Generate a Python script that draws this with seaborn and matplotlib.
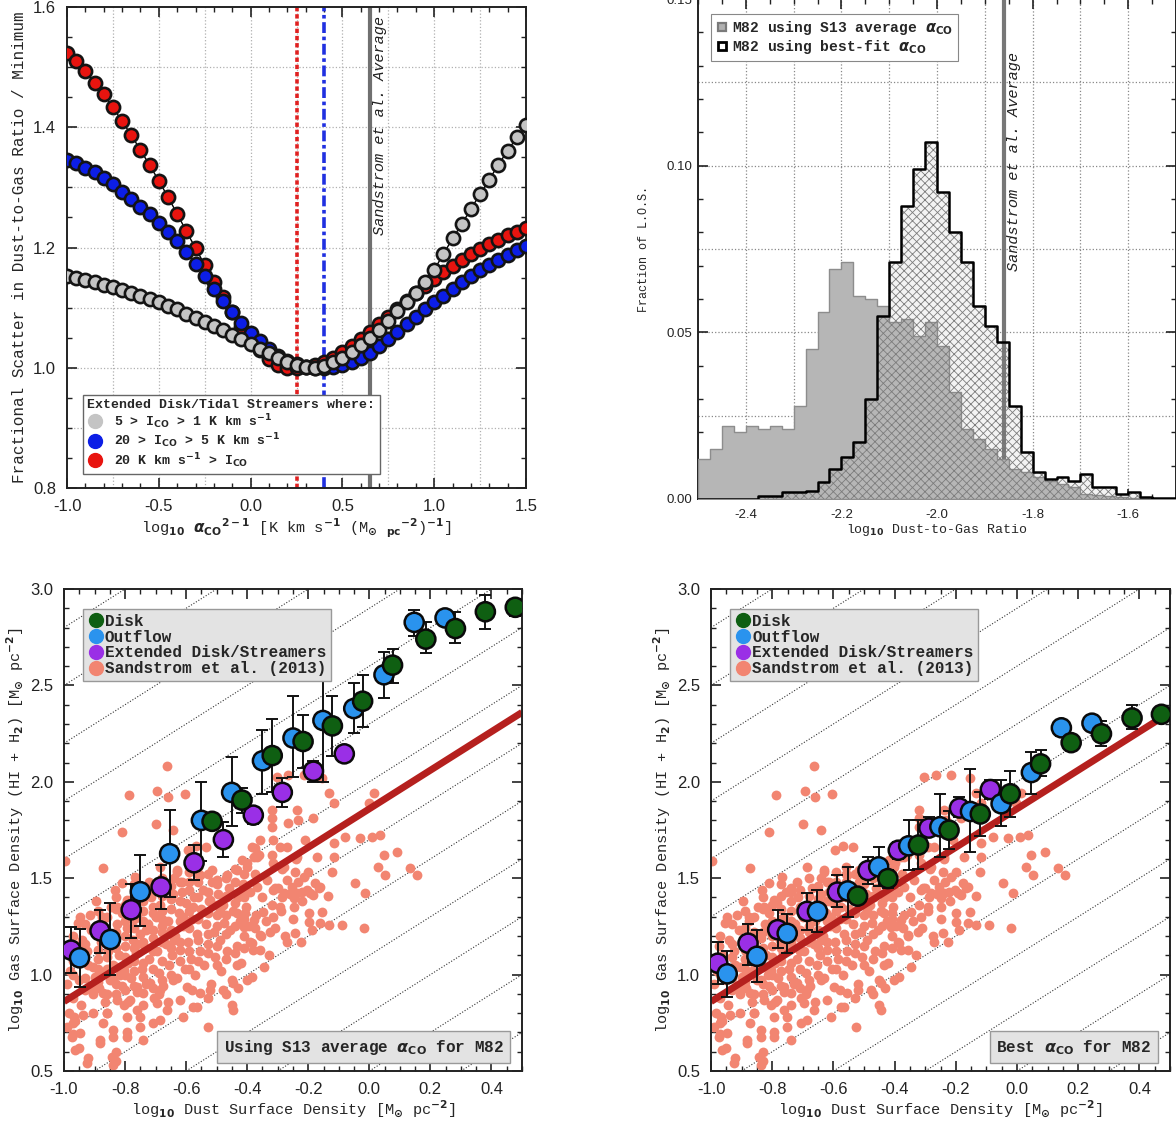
import numpy as np
import pandas as pd
import seaborn as sns
import matplotlib
matplotlib.use("Agg")
import matplotlib.pyplot as plt
from matplotlib.lines import Line2D
from matplotlib.ticker import MultipleLocator, FormatStrFormatter

# ---------------- top left: scatter in DGR vs alpha_CO ----------------
alpha_grid = [-1.00, -0.95, -0.90, -0.85, -0.80, -0.75, -0.70, -0.65, -0.60, -0.55,
              -0.50, -0.45, -0.40, -0.35, -0.30, -0.25, -0.20, -0.15, -0.10, -0.05,
              0.00, 0.05, 0.10, 0.15, 0.20, 0.25, 0.30, 0.35, 0.40, 0.45,
              0.50, 0.55, 0.60, 0.65, 0.70, 0.75, 0.80, 0.85, 0.90, 0.95,
              1.00, 1.05, 1.10, 1.15, 1.20, 1.25, 1.30, 1.35, 1.40, 1.45, 1.50]
scatter_low = [1.152, 1.149, 1.146, 1.142, 1.138, 1.134, 1.130, 1.125, 1.120, 1.115,
               1.109, 1.103, 1.097, 1.090, 1.083, 1.076, 1.069, 1.062, 1.055, 1.047,
               1.040, 1.032, 1.024, 1.016, 1.009, 1.004, 1.001, 1.000, 1.003, 1.009,
               1.017, 1.027, 1.038, 1.050, 1.063, 1.077, 1.094, 1.110, 1.124, 1.142,
               1.163, 1.189, 1.215, 1.239, 1.264, 1.289, 1.313, 1.338, 1.361, 1.383, 1.404]
scatter_mid = [1.346, 1.340, 1.333, 1.325, 1.315, 1.305, 1.293, 1.281, 1.268, 1.255,
               1.241, 1.226, 1.210, 1.192, 1.172, 1.152, 1.131, 1.111, 1.092, 1.074,
               1.058, 1.044, 1.031, 1.020, 1.012, 1.006, 1.002, 1.000, 1.000, 1.001,
               1.004, 1.009, 1.016, 1.025, 1.036, 1.047, 1.059, 1.072, 1.085, 1.097,
               1.109, 1.120, 1.131, 1.142, 1.152, 1.162, 1.171, 1.180, 1.188, 1.196, 1.203]
scatter_high = [1.523, 1.510, 1.493, 1.474, 1.455, 1.433, 1.410, 1.387, 1.362, 1.337,
                1.311, 1.284, 1.256, 1.227, 1.199, 1.171, 1.143, 1.117, 1.092, 1.068,
                1.047, 1.029, 1.015, 1.005, 1.000, 1.000, 1.001, 1.004, 1.010, 1.017,
                1.026, 1.036, 1.047, 1.059, 1.072, 1.085, 1.098, 1.111, 1.124, 1.136,
                1.148, 1.159, 1.170, 1.180, 1.189, 1.198, 1.206, 1.213, 1.220, 1.226, 1.232]
best_alpha_high = 0.25
best_alpha_mid = 0.40
s13_alpha = 0.65

# ---------------- top right: DGR histograms ----------------
dgr_edges = [-2.500, -2.475, -2.450, -2.425, -2.400, -2.375, -2.350, -2.325, -2.300, -2.275,
             -2.250, -2.225, -2.200, -2.175, -2.150, -2.125, -2.100, -2.075, -2.050, -2.025,
             -2.000, -1.975, -1.950, -1.925, -1.900, -1.875, -1.850, -1.825, -1.800, -1.775,
             -1.750, -1.725, -1.700, -1.675, -1.650, -1.625, -1.600, -1.575, -1.550, -1.525,
             -1.500]
frac_s13 = [0.012, 0.015, 0.022, 0.020, 0.022, 0.021, 0.022, 0.021, 0.028, 0.045,
            0.056, 0.069, 0.071, 0.061, 0.060, 0.058, 0.053, 0.054, 0.049, 0.053,
            0.046, 0.032, 0.021, 0.018, 0.015, 0.012, 0.009, 0.008, 0.0065, 0.0055,
            0.0045, 0.0035, 0.0015, 0.0012, 0.0008, 0.0005, 0.0003, 0.0002, 0.0, 0.0]
frac_best = [0.0, 0.0, 0.0, 0.0, 0.0, 0.001, 0.001, 0.002, 0.002, 0.0025,
             0.005, 0.009, 0.0125, 0.017, 0.030, 0.055, 0.071, 0.088, 0.099, 0.107,
             0.092, 0.080, 0.071, 0.058, 0.052, 0.047, 0.028, 0.014, 0.008, 0.006,
             0.0065, 0.0055, 0.0075, 0.0035, 0.0035, 0.0015, 0.002, 0.0007, 0.0002, 0.0002]
s13_log_dgr = -1.86

# ---------------- bottom: gas vs dust surface density ----------------
# constant DGR guide lines: log gas = log dust + offset
dgr_offsets = [0.2, 0.5, 0.8, 1.1, 1.4, 1.7, 2.0, 2.3, 2.6, 2.9, 3.2, 3.5, 3.8]

sandstrom_pts = [
    (-0.99, 0.95), (-0.98, 1.02), (-0.97, 0.88), (-0.96, 1.10), (-0.95, 0.97), (-0.94, 1.18),
    (-0.93, 0.92), (-0.92, 1.05), (-0.91, 1.23), (-0.90, 0.99), (-0.985, 0.80), (-0.965, 0.76),
    (-0.945, 0.84), (-0.925, 1.12), (-0.905, 0.90), (-0.975, 1.15), (-0.955, 1.27), (-0.915, 1.31),
    (-0.89, 1.08), (-0.885, 0.93), (-0.88, 1.17), (-0.875, 1.28), (-0.87, 1.01), (-0.865, 0.86),
    (-0.86, 1.22), (-0.855, 1.12), (-0.85, 0.97), (-0.845, 1.35), (-0.84, 1.05), (-0.835, 1.19),
    (-0.83, 0.90), (-0.825, 1.26), (-0.82, 1.10), (-0.815, 1.00), (-0.81, 1.32), (-0.805, 0.84),
    (-0.80, 1.15), (-0.895, 1.38), (-0.86, 0.80), (-0.83, 1.40), (-0.81, 0.94),
    (-0.795, 1.24), (-0.79, 1.06), (-0.785, 1.37), (-0.78, 0.98), (-0.775, 1.18), (-0.77, 1.29),
    (-0.765, 1.11), (-0.76, 0.91), (-0.755, 1.43), (-0.75, 1.21), (-0.745, 1.03), (-0.74, 1.33),
    (-0.735, 1.14), (-0.73, 0.95), (-0.725, 1.26), (-0.72, 1.08), (-0.715, 1.40), (-0.71, 1.19),
    (-0.705, 0.88), (-0.70, 1.30), (-0.79, 0.86), (-0.77, 1.47), (-0.74, 0.84), (-0.72, 1.48),
    (-0.76, 1.16), (-0.73, 1.23),
    (-0.695, 1.12), (-0.69, 1.01), (-0.685, 1.36), (-0.68, 1.22), (-0.675, 0.94), (-0.67, 1.45),
    (-0.665, 1.16), (-0.66, 1.28), (-0.655, 1.05), (-0.65, 1.39), (-0.645, 1.10), (-0.64, 1.50),
    (-0.635, 1.20), (-0.63, 0.98), (-0.625, 1.32), (-0.62, 1.13), (-0.615, 1.43), (-0.61, 1.25),
    (-0.605, 1.03), (-0.60, 1.37), (-0.69, 0.90), (-0.66, 0.86), (-0.63, 1.54), (-0.68, 1.29),
    (-0.64, 1.18),
    (-0.595, 1.17), (-0.59, 1.48), (-0.585, 1.08), (-0.58, 1.29), (-0.575, 1.40), (-0.57, 1.00),
    (-0.565, 1.21), (-0.56, 1.52), (-0.555, 1.12), (-0.55, 1.34), (-0.545, 1.44), (-0.54, 1.05),
    (-0.535, 1.26), (-0.53, 1.16), (-0.525, 1.38), (-0.52, 0.95), (-0.515, 1.48), (-0.51, 1.22),
    (-0.505, 1.09), (-0.50, 1.31), (-0.58, 0.92), (-0.53, 0.88), (-0.56, 1.56),
    (-0.495, 1.42), (-0.49, 1.18), (-0.485, 1.02), (-0.48, 1.36), (-0.475, 1.27), (-0.47, 1.50),
    (-0.465, 1.12), (-0.46, 1.45), (-0.455, 1.23), (-0.45, 0.97), (-0.445, 1.33), (-0.44, 1.55),
    (-0.435, 1.15), (-0.43, 1.40), (-0.425, 1.28), (-0.42, 1.06), (-0.415, 1.47), (-0.41, 1.20),
    (-0.405, 1.35), (-0.40, 1.58), (-0.47, 0.90), (-0.43, 0.93),
    (-0.395, 1.25), (-0.39, 1.43), (-0.38, 1.13), (-0.375, 1.52), (-0.37, 1.31), (-0.36, 1.62),
    (-0.355, 1.20), (-0.35, 1.40), (-0.34, 1.28), (-0.335, 1.49), (-0.33, 1.10), (-0.32, 1.36),
    (-0.315, 1.58), (-0.31, 1.24), (-0.30, 1.45), (-0.385, 0.99), (-0.345, 1.04),
    (-0.29, 1.33), (-0.285, 1.55), (-0.275, 1.20), (-0.27, 1.66), (-0.26, 1.42), (-0.25, 1.29),
    (-0.24, 1.60), (-0.235, 1.48), (-0.225, 1.17), (-0.22, 1.38), (-0.21, 1.70), (-0.20, 1.53),
    # extra points filling the dense core
    (-0.97, 1.00), (-0.97, 1.07), (-0.97, 1.20), (-0.93, 0.98), (-0.93, 1.09), (-0.93, 1.16),
    (-0.93, 1.26), (-0.89, 0.96), (-0.89, 1.03), (-0.89, 1.13), (-0.89, 1.24), (-0.89, 1.33),
    (-0.86, 0.90), (-0.86, 1.03), (-0.86, 1.09), (-0.86, 1.16), (-0.86, 1.30), (-0.83, 0.95),
    (-0.83, 1.04), (-0.83, 1.14), (-0.83, 1.22), (-0.83, 1.34), (-0.80, 0.92), (-0.80, 1.00),
    (-0.80, 1.09), (-0.80, 1.20), (-0.80, 1.28), (-0.80, 1.36), (-0.77, 0.94), (-0.77, 1.02),
    (-0.77, 1.07), (-0.77, 1.14), (-0.77, 1.24), (-0.77, 1.34), (-0.77, 1.41), (-0.74, 0.99),
    (-0.74, 1.06), (-0.74, 1.17), (-0.74, 1.28), (-0.74, 1.38), (-0.74, 1.45), (-0.71, 0.93),
    (-0.71, 1.03), (-0.71, 1.12), (-0.71, 1.23), (-0.71, 1.35), (-0.71, 1.44), (-0.68, 0.97),
    (-0.68, 1.07), (-0.68, 1.17), (-0.68, 1.25), (-0.68, 1.33), (-0.68, 1.41), (-0.68, 1.50),
    (-0.65, 1.00), (-0.65, 1.14), (-0.65, 1.23), (-0.65, 1.34), (-0.65, 1.46), (-0.62, 1.07),
    (-0.62, 1.17), (-0.62, 1.28), (-0.62, 1.38), (-0.62, 1.48), (-0.59, 1.03), (-0.59, 1.12),
    (-0.59, 1.24), (-0.59, 1.33), (-0.59, 1.44), (-0.59, 1.53), (-0.56, 1.07), (-0.56, 1.18),
    (-0.56, 1.29), (-0.56, 1.40), (-0.56, 1.48), (-0.53, 1.11), (-0.53, 1.21), (-0.53, 1.32),
    (-0.53, 1.43), (-0.53, 1.52), (-0.50, 1.05), (-0.50, 1.15), (-0.50, 1.25), (-0.50, 1.36),
    (-0.50, 1.47), (-0.47, 1.08), (-0.47, 1.21), (-0.47, 1.31), (-0.47, 1.41), (-0.44, 1.11),
    (-0.44, 1.25), (-0.44, 1.37), (-0.44, 1.48), (-0.41, 1.14), (-0.41, 1.29), (-0.41, 1.40),
    (-0.41, 1.52),
    # sparse points above the relation
    (-0.663, 2.08), (-0.786, 1.93), (-0.694, 1.95), (-0.661, 1.92), (-0.603, 1.935),
    (-0.698, 1.78), (-0.811, 1.74), (-0.642, 1.75), (-0.997, 1.59), (-0.873, 1.555),
    (-0.594, 1.646), (-0.567, 1.667), (-0.535, 1.663), (-0.685, 1.56), (-0.767, 1.508),
    (-0.811, 1.474), (-0.833, 1.44), (-0.948, 1.30), (-0.876, 1.30), (-0.631, 1.534),
    (-0.614, 1.482), (-0.554, 1.517), (-0.516, 1.543), (-0.499, 1.491), (-0.467, 1.517),
    (-0.434, 1.543), (-0.417, 1.594), (-0.401, 1.560), (-0.368, 1.611), (-0.385, 1.663),
    (-0.357, 1.698), (-0.642, 1.42), (-0.74, 1.43), (-0.794, 1.387), (-0.827, 1.352),
    (-0.576, 1.352), (-0.521, 1.387), (-0.467, 1.404), (-0.412, 1.42), (-0.368, 1.455),
    (-0.489, 1.335), (-0.434, 1.318), (-0.609, 1.30), (-0.707, 1.318), (-0.762, 1.30),
    (-0.303, 2.027), (-0.265, 2.035), (-0.215, 2.035), (-0.155, 2.018), (-0.133, 1.94),
    (-0.117, 1.888), (-0.319, 1.854), (-0.237, 1.854), (-0.183, 1.81), (-0.265, 1.784),
    (-0.319, 1.767), (-0.232, 1.802), (0.014, 1.94), (-0.002, 1.888), (-0.079, 1.715),
    (-0.117, 1.68), (-0.030, 1.707), (0.009, 1.715), (0.036, 1.724), (-0.172, 1.612),
    (-0.117, 1.612), (0.047, 1.62), (0.091, 1.637), (0.030, 1.56), (0.052, 1.517),
    (0.134, 1.551), (0.156, 1.517), (-0.122, 1.534), (-0.046, 1.473), (-0.013, 1.421),
    (-0.183, 1.413), (-0.134, 1.408), (-0.314, 1.698), (-0.292, 1.663), (-0.374, 1.655),
    (-0.379, 1.612), (-0.319, 1.62), (-0.281, 1.56), (-0.237, 1.612), (-0.243, 1.534),
    (-0.215, 1.508), (-0.270, 1.49), (-0.308, 1.447), (-0.254, 1.456), (-0.204, 1.439),
    (-0.161, 1.456), (-0.177, 1.473), (-0.237, 1.421), (-0.286, 1.404), (-0.319, 1.81),
    # right of the dense core
    (-0.166, 1.447), (-0.193, 1.421), (-0.221, 1.430), (-0.248, 1.396), (-0.292, 1.352),
    (-0.248, 1.352), (-0.199, 1.318), (-0.155, 1.326), (-0.199, 1.274), (-0.161, 1.266),
    (-0.133, 1.257), (-0.090, 1.257), (-0.019, 1.240), (-0.188, 1.231), (-0.243, 1.214),
    (-0.270, 1.171), (-0.325, 1.223), (-0.357, 1.205), (-0.390, 1.171), (-0.357, 1.128),
    (-0.374, 1.240), (-0.314, 1.300), (-0.347, 1.326), (-0.379, 1.283), (-0.407, 1.318),
    (-0.412, 1.249), (-0.281, 1.421), (-0.314, 1.439),
    # below the relation
    (-0.904, 0.937), (-0.871, 0.903), (-0.827, 0.868), (-0.784, 0.868), (-0.740, 0.903),
    (-0.696, 0.851), (-0.663, 0.816), (-0.620, 0.868), (-0.576, 0.834), (-0.762, 0.816),
    (-0.795, 0.782), (-0.751, 0.782), (-0.860, 0.799), (-0.904, 0.799), (-0.937, 0.790),
    (-0.969, 0.747), (-0.948, 0.695), (-0.991, 0.730), (-0.871, 0.747), (-0.838, 0.713),
    (-0.795, 0.704), (-0.751, 0.730), (-0.707, 0.747), (-0.882, 0.661), (-0.838, 0.678),
    (-0.795, 0.678), (-0.740, 0.661), (-0.975, 0.678), (-0.964, 0.609), (-0.844, 0.574),
    (-0.926, 0.540), (-0.838, 0.531), (-0.882, 0.644), (-0.609, 0.782), (-0.565, 0.834),
    (-0.527, 0.730), (-0.445, 0.816), (-0.434, 1.050), (-0.401, 0.972), (-0.685, 0.764),
    (-0.385, 1.162), (-0.445, 0.955), (-0.478, 0.920), (-0.521, 0.920), (-0.554, 0.903),
    (-0.598, 0.937), (-0.642, 0.972), (-0.685, 0.920), (-0.718, 0.955), (-0.762, 0.937),
    (-0.805, 1.024), (-0.838, 0.972), (-0.871, 1.007), (-0.904, 1.041), (-0.45, 0.84),
    (-0.966, 0.78), (-0.97, 0.69), (-0.95, 0.62), (-0.92, 0.57), (-0.83, 0.55), (-0.83, 0.60),
]

# S13 average alpha_CO (left panel)
s13_disk_x = [-0.515, -0.417, -0.318, -0.217, -0.121, -0.022, 0.076, 0.185, 0.282, 0.380, 0.478]
s13_disk_y = [1.795, 1.905, 2.136, 2.209, 2.290, 2.418, 2.605, 2.740, 2.795, 2.882, 2.905]
s13_disk_lo = [1.775, 1.840, 1.945, 2.073, 2.136, 2.282, 2.510, 2.670, 2.720, 2.790, 2.860]
s13_disk_hi = [1.815, 1.970, 2.327, 2.345, 2.445, 2.555, 2.690, 2.830, 2.880, 2.970, 2.945]
s13_out_x = [-0.949, -0.848, -0.750, -0.654, -0.550, -0.451, -0.350, -0.250, -0.152, -0.051,
             0.048, 0.147, 0.248]
s13_out_y = [1.087, 1.182, 1.430, 1.627, 1.800, 1.945, 2.109, 2.227, 2.318, 2.380,
             2.555, 2.827, 2.850]
s13_out_lo = [0.936, 1.000, 1.250, 1.400, 1.590, 1.773, 1.936, 2.027, 2.000, 2.255,
              2.436, 2.755, 2.820]
s13_out_hi = [1.236, 1.373, 1.620, 1.855, 2.000, 2.127, 2.270, 2.445, 2.555, 2.510,
              2.673, 2.890, 2.875]
s13_ext_x = [-0.977, -0.882, -0.780, -0.682, -0.574, -0.478, -0.380, -0.285, -0.183, -0.082]
s13_ext_y = [1.127, 1.227, 1.336, 1.455, 1.580, 1.700, 1.827, 1.945, 2.055, 2.145]
s13_ext_lo = [1.010, 1.110, 1.190, 1.340, 1.490, 1.610, 1.780, 1.870, 2.000, 2.110]
s13_ext_hi = [1.245, 1.336, 1.470, 1.570, 1.670, 1.790, 1.870, 2.020, 2.110, 2.180]

# best-fit alpha_CO (right panel)
best_disk_x = [-0.521, -0.422, -0.322, -0.222, -0.120, -0.022, 0.077, 0.177, 0.276, 0.376, 0.472]
best_disk_y = [1.407, 1.498, 1.672, 1.749, 1.833, 1.938, 2.093, 2.203, 2.249, 2.331, 2.350]
best_disk_lo = [1.385, 1.450, 1.550, 1.654, 1.720, 1.820, 2.030, 2.180, 2.185, 2.276, 2.330]
best_disk_hi = [1.430, 1.545, 1.800, 1.846, 1.947, 2.057, 2.167, 2.240, 2.313, 2.396, 2.370]
best_out_x = [-0.947, -0.850, -0.751, -0.652, -0.553, -0.452, -0.354, -0.252, -0.152, -0.052,
              0.047, 0.145, 0.245]
best_out_y = [1.004, 1.095, 1.214, 1.328, 1.434, 1.559, 1.668, 1.767, 1.846, 1.886,
              2.048, 2.280, 2.304]
best_out_lo = [0.885, 0.960, 1.110, 1.220, 1.300, 1.460, 1.544, 1.610, 1.635, 1.770,
               1.938, 2.240, 2.270]
best_out_hi = [1.120, 1.230, 1.315, 1.440, 1.560, 1.663, 1.800, 1.938, 2.066, 2.010,
               2.157, 2.320, 2.340]
best_ext_x = [-0.978, -0.879, -0.782, -0.686, -0.587, -0.487, -0.388, -0.288, -0.188, -0.087]
best_ext_y = [1.059, 1.163, 1.233, 1.328, 1.428, 1.540, 1.645, 1.760, 1.864, 1.960]
best_ext_lo = [0.950, 1.050, 1.140, 1.230, 1.350, 1.470, 1.600, 1.720, 1.820, 1.910]
best_ext_hi = [1.168, 1.260, 1.333, 1.425, 1.516, 1.610, 1.690, 1.820, 1.920, 2.010]

region_colors = {"Disk": "#0f5f12", "Outflow": "#2a93ee",
                 "Extended Disk/Streamers": "#9a2fe6"}
sandstrom_color = "#f28571"

# ---------------- style ----------------
rc = {"xtick.direction": "in", "ytick.direction": "in", "xtick.top": True, "ytick.right": True,
      "xtick.major.size": 7, "ytick.major.size": 7, "xtick.minor.size": 3.5,
      "ytick.minor.size": 3.5, "xtick.major.width": 1.2, "ytick.major.width": 1.2,
      "xtick.minor.width": 1.0, "ytick.minor.width": 1.0, "axes.linewidth": 1.4,
      "axes.edgecolor": "#222222", "hatch.linewidth": 0.6,
      "xtick.major.pad": 8, "ytick.major.pad": 8}
sns.set_theme(style="ticks", rc=rc)
plt.rcParams["font.family"] = ["Liberation Mono", "DejaVu Sans Mono"]
plt.rcParams["font.weight"] = "bold"
TICKFONT = ["Liberation Sans", "DejaVu Sans"]

fig = plt.figure(figsize=(11.76, 11.28), dpi=100)
W, H = 1176.0, 1128.0


def axes_px(left, top, right, bottom):
    return fig.add_axes([left / W, 1 - bottom / H, (right - left) / W, (bottom - top) / H])


def style_ticks(ax, size):
    for lab in ax.get_xticklabels() + ax.get_yticklabels():
        lab.set_family(TICKFONT)
        lab.set_fontsize(size)
        lab.set_fontweight("normal")
    ax.tick_params(which="both", colors="#222222")


# ================= panel A =================
axA = axes_px(67, 7, 526, 488)
for gx in [-0.75, -0.5, -0.25, 0.0, 0.25, 0.5, 0.75, 1.0, 1.25]:
    axA.axvline(gx, color="#b0b0b0", ls=":", lw=0.9, zorder=0)
for gy in [0.9, 1.0, 1.1, 1.2, 1.3, 1.4, 1.5]:
    axA.axhline(gy, color="#b0b0b0", ls=":", lw=0.9, zorder=0)
axA.axvline(best_alpha_high, color="#e02020", ls=(0, (1.2, 0.8)), lw=2.6, zorder=1)
axA.axvline(best_alpha_mid, color="#2030e0", ls=(0, (3, 1, 1, 1)), lw=2.6, zorder=1)
axA.axvline(s13_alpha, color="#707070", lw=3.0, zorder=1)

curves = [(scatter_high, "#e8140f"), (scatter_mid, "#0c1ee6"), (scatter_low, "#c4c4c4")]
for vals, col in curves:
    sns.lineplot(x=alpha_grid, y=vals, ax=axA, color="black", lw=1.0, marker="o",
                 markersize=9.5, markerfacecolor=col, markeredgecolor="#141414",
                 markeredgewidth=1.9, zorder=3)

axA.text(s13_alpha + 0.055, 1.585, "Sandstrom et al. Average", rotation=90, ha="center",
         va="top", fontsize=11, style="italic", fontweight="normal", color="#222222")
axA.set_xlim(-1.0, 1.5)
axA.set_ylim(0.8, 1.6)
axA.xaxis.set_major_locator(MultipleLocator(0.5))
axA.xaxis.set_minor_locator(MultipleLocator(0.1))
axA.yaxis.set_major_locator(MultipleLocator(0.2))
axA.yaxis.set_minor_locator(MultipleLocator(0.05))
axA.xaxis.set_major_formatter(FormatStrFormatter("%.1f"))
axA.yaxis.set_major_formatter(FormatStrFormatter("%.1f"))
axA.set_xlabel(r"log$_{10}$ $\alpha_{\rm CO}$$^{2-1}$ [K km s$^{-1}$ (M$_{\odot}$ $_{\rm pc}$$^{-2}$)$^{-1}$]",
               fontsize=11, labelpad=2)
axA.set_ylabel("Fractional Scatter in Dust-to-Gas Ratio / Minimum", fontsize=11.5, labelpad=4)
style_ticks(axA, 12)

legA_handles = [Line2D([], [], ls="none", marker="o", ms=10, mfc=c, mec=c)
                for c in ["#c4c4c4", "#0c1ee6", "#e8140f"]]
legA_labels = [r"5 > I$_{\rm CO}$ > 1 K km s$^{-1}$", r"20 > I$_{\rm CO}$ > 5 K km s$^{-1}$",
               r"20 K km s$^{-1}$ > I$_{\rm CO}$"]
legA = axA.legend(legA_handles, legA_labels, loc="lower left", bbox_to_anchor=(0.02, 0.015),
                  title="Extended Disk/Tidal Streamers where:", fontsize=9.5,
                  title_fontproperties={"size": 9.5, "weight": "bold"}, alignment="left",
                  frameon=True, fancybox=False, framealpha=1, edgecolor="#666666",
                  handletextpad=0.8, handlelength=1.2, labelspacing=0.05, borderpad=0.35)
legA.get_frame().set_linewidth(1.0)

# ================= panel B =================
axB = axes_px(698, -1, 1176, 499)
centers = [(a + b) / 2 for a, b in zip(dgr_edges[:-1], dgr_edges[1:])]
for gx in [-2.4, -2.3, -2.2, -2.1, -2.0, -1.9, -1.8, -1.7, -1.6]:
    axB.axvline(gx, color="#888888", ls=":", lw=0.9, zorder=0)
for gy in [0.025, 0.05, 0.075, 0.1, 0.125]:
    axB.axhline(gy, color="#888888", ls=":", lw=0.9, zorder=0)
sns.histplot(x=centers, weights=frac_best, bins=dgr_edges, element="step", fill=True,
             color="#f3f3f3", facecolor="#f3f3f3", edgecolor="none", linewidth=0, alpha=1,
             ax=axB, zorder=1)
axB.axvline(s13_log_dgr, color="#777777", lw=3.0, zorder=2)
sns.histplot(x=centers, weights=frac_s13, bins=dgr_edges, element="step", fill=True,
             color="#b6b6b6", facecolor="#b6b6b6", edgecolor="#8d8d8d", linewidth=1.0, alpha=1,
             ax=axB, zorder=3)
sns.histplot(x=centers, weights=frac_best, bins=dgr_edges, element="step", fill=True,
             color="#7c7c7c", facecolor="none", edgecolor="#7c7c7c", hatch="xxxx", linewidth=0,
             ax=axB, zorder=4)
sns.histplot(x=centers, weights=frac_best, bins=dgr_edges, element="step", fill=False,
             color="black", linewidth=1.8, ax=axB, zorder=5)
axB.text(s13_log_dgr + 0.022, 0.134, "Sandstrom et al. Average", rotation=90, ha="center",
         va="top", fontsize=11, style="italic", fontweight="normal", color="#222222")
axB.set_xlim(-2.5, -1.5)
axB.set_ylim(0.0, 0.15)
axB.xaxis.set_major_locator(MultipleLocator(0.2))
axB.xaxis.set_minor_locator(MultipleLocator(0.05))
axB.yaxis.set_major_locator(MultipleLocator(0.05))
axB.yaxis.set_minor_locator(MultipleLocator(0.01))
axB.xaxis.set_major_formatter(FormatStrFormatter("%.1f"))
axB.yaxis.set_major_formatter(FormatStrFormatter("%.2f"))
axB.tick_params(axis="x", which="major", pad=7)
axB.tick_params(axis="y", which="major", pad=4)
axB.set_xlabel(r"log$_{10}$ Dust-to-Gas Ratio", fontsize=9.5, labelpad=1)
axB.set_ylabel("Fraction of L.O.S.", fontsize=8.5, labelpad=12)
style_ticks(axB, 9.5)
legB_handles = [Line2D([], [], ls="none", marker="s", ms=6, mfc="#b0b0b0", mec="#7a7a7a", mew=1.6),
                Line2D([], [], ls="none", marker="s", ms=6, mfc="white", mec="black", mew=2.0)]
legB = axB.legend(legB_handles, [r"M82 using S13 average $\alpha_{\rm CO}$",
                                 r"M82 using best-fit $\alpha_{\rm CO}$"],
                  loc="upper left", bbox_to_anchor=(0.012, 0.985), fontsize=10.5,
                  frameon=True, fancybox=False, framealpha=1, edgecolor="#888888",
                  handletextpad=0.3, handlelength=0.8, labelspacing=0.05, borderpad=0.35)
legB.get_frame().set_linewidth(0.8)


# ================= panels C and D =================
def gas_dust_panel(ax, disk, out, ext, note):
    for c in dgr_offsets:
        ax.axline((0.0, c), slope=1.0, color="#333333", ls=(0, (1, 1.6)), lw=0.8, zorder=0)
    sx = [p[0] for p in sandstrom_pts]
    sy = [p[1] for p in sandstrom_pts]
    sns.scatterplot(x=sx, y=sy, ax=ax, color=sandstrom_color, s=50, linewidth=0, zorder=1)
    ax.axline((0.0, -s13_log_dgr), slope=1.0, color="#b5201e", lw=5, zorder=2,
              solid_capstyle="butt")
    frames = []
    for name, (gx, gy, lo, hi) in [("Extended Disk/Streamers", ext), ("Outflow", out),
                                   ("Disk", disk)]:
        gx, gy, lo, hi = map(np.asarray, (gx, gy, lo, hi))
        ax.errorbar(gx, gy, yerr=[gy - lo, hi - gy], fmt="none", ecolor="#111111",
                    elinewidth=1.4, capsize=4, capthick=1.4, zorder=3)
        frames.append(pd.DataFrame({"x": gx, "y": gy, "region": name}))
    df = pd.concat(frames, ignore_index=True)
    sns.scatterplot(data=df, x="x", y="y", hue="region", palette=region_colors, s=190,
                    edgecolor="#0a0a0a", linewidth=1.8, legend=False, ax=ax, zorder=4)
    ax.set_xlim(-1.0, 0.5)
    ax.set_ylim(0.5, 3.0)
    ax.xaxis.set_major_locator(MultipleLocator(0.2))
    ax.xaxis.set_minor_locator(MultipleLocator(0.05))
    ax.yaxis.set_major_locator(MultipleLocator(0.5))
    ax.yaxis.set_minor_locator(MultipleLocator(0.1))
    ax.xaxis.set_major_formatter(FormatStrFormatter("%.1f"))
    ax.yaxis.set_major_formatter(FormatStrFormatter("%.1f"))
    ax.set_xlabel(r"log$_{10}$ Dust Surface Density [M$_{\odot}$ pc$^{-2}$]", fontsize=11,
                  labelpad=1)
    ax.set_ylabel(r"log$_{10}$ Gas Surface Density (HI + H$_2$) [M$_{\odot}$ pc$^{-2}$]",
                  fontsize=11, labelpad=3)
    style_ticks(ax, 12)
    handles = [Line2D([], [], ls="none", marker="o", ms=10, mfc=c, mec=c)
               for c in [region_colors["Disk"], region_colors["Outflow"],
                         region_colors["Extended Disk/Streamers"], sandstrom_color]]
    leg = ax.legend(handles, ["Disk", "Outflow", "Extended Disk/Streamers",
                              "Sandstrom et al. (2013)"],
                    loc="upper left", bbox_to_anchor=(0.025, 0.975), fontsize=11.5,
                    frameon=True, fancybox=False, framealpha=1, facecolor="#e3e3e3",
                    edgecolor="#999999", handletextpad=0.05, handlelength=1.0,
                    labelspacing=0.05, borderpad=0.3)
    leg.get_frame().set_linewidth(1.0)
    ax.text(0.96, 0.03, note, transform=ax.transAxes, ha="right", va="bottom",
            fontsize=11.5, zorder=6,
            bbox=dict(boxstyle="square,pad=0.4", facecolor="#e3e3e3", edgecolor="#999999",
                      lw=1.0))


axC = axes_px(64, 589, 522, 1071)
gas_dust_panel(axC, (s13_disk_x, s13_disk_y, s13_disk_lo, s13_disk_hi),
               (s13_out_x, s13_out_y, s13_out_lo, s13_out_hi),
               (s13_ext_x, s13_ext_y, s13_ext_lo, s13_ext_hi),
               r"Using S13 average $\alpha_{\rm CO}$ for M82")
axD = axes_px(711, 589, 1170, 1071)
gas_dust_panel(axD, (best_disk_x, best_disk_y, best_disk_lo, best_disk_hi),
               (best_out_x, best_out_y, best_out_lo, best_out_hi),
               (best_ext_x, best_ext_y, best_ext_lo, best_ext_hi),
               r"Best $\alpha_{\rm CO}$ for M82")

fig.savefig("out.png", dpi=100)
